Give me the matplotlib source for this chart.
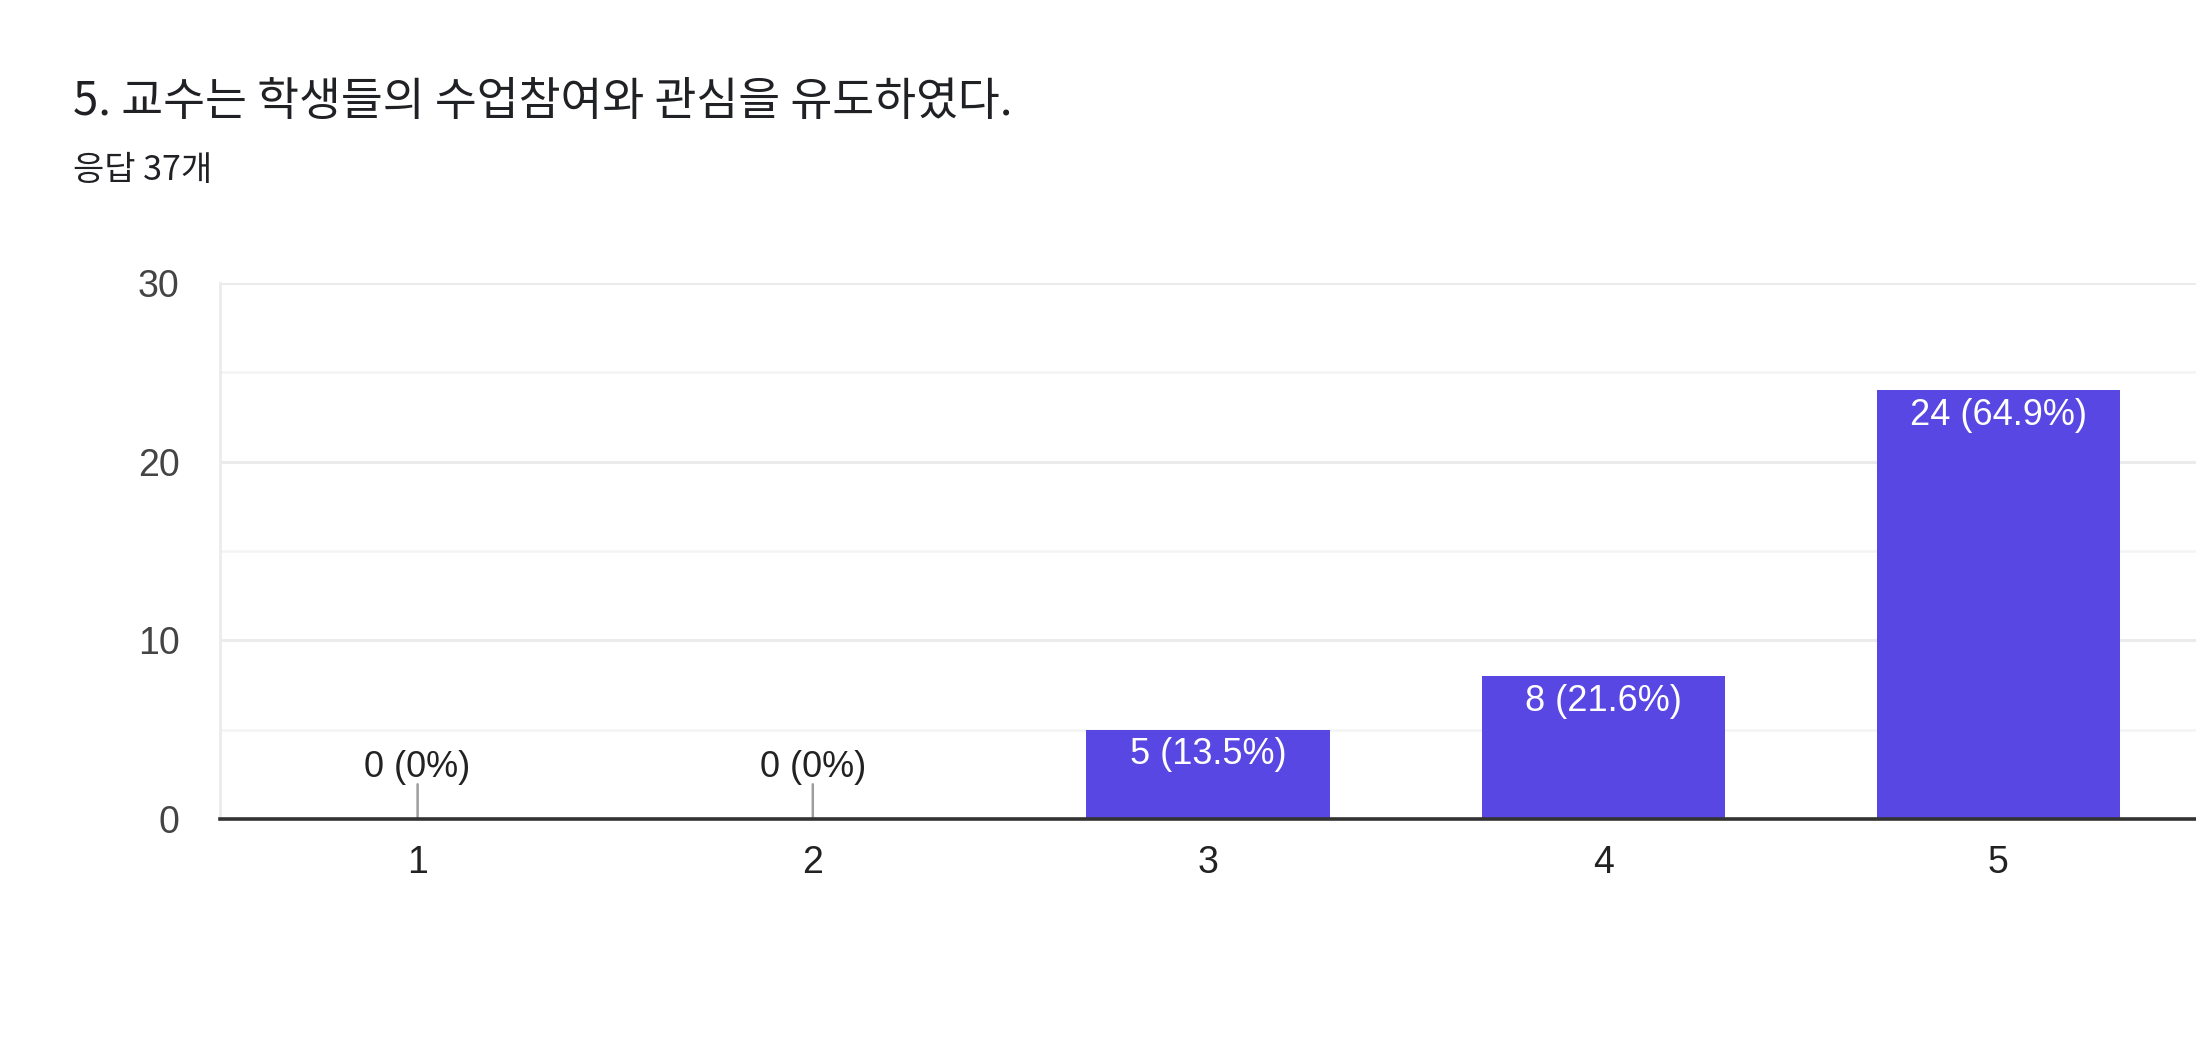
import matplotlib
matplotlib.use("Agg")
import matplotlib.pyplot as plt
from matplotlib.ticker import MultipleLocator

categories = ["1", "2", "3", "4", "5"]
counts = [0, 0, 5, 8, 24]
labels = ["0 (0%)", "0 (0%)", "5 (13.5%)", "8 (21.6%)", "24 (64.9%)"]
title = "5. 교수는 학생들의 수업참여와 관심을 유도하였다."
subtitle = "응답 37개"

plt.rcParams['font.family'] = ['Liberation Sans', 'Noto Sans CJK KR', 'DejaVu Sans']

fig = plt.figure(figsize=(21.96, 10.44), dpi=100)
ax = fig.add_axes([220/2196, 1 - 819/1044, 1 - 220/2196, (819 - 283)/1044])

xs = list(range(1, len(categories) + 1))
bars = ax.bar(xs, counts, width=0.615, color='#5847e2', zorder=3)

ax.set_xlim(0.5, 5.5)
ax.set_ylim(0, 30)
ax.yaxis.set_major_locator(MultipleLocator(10))
ax.yaxis.set_minor_locator(MultipleLocator(5))
ax.set_xticks(xs)
ax.set_xticklabels(categories)

ax.grid(which='major', axis='y', color='#ebebeb', lw=2.2, zorder=0)
ax.grid(which='minor', axis='y', color='#f4f4f4', lw=1.8, zorder=0)
ax.tick_params(axis='both', which='both', length=0)
ax.tick_params(axis='y', labelsize=27, labelcolor='#444444', pad=29)
ax.tick_params(axis='x', labelsize=27, labelcolor='#222222', pad=19)

for s in ['top', 'right']:
    ax.spines[s].set_visible(False)
ax.spines['left'].set_color('#ebebeb')
ax.spines['left'].set_linewidth(2)
ax.spines['bottom'].set_color('#333333')
ax.spines['bottom'].set_linewidth(2.6)
ax.spines['bottom'].set_zorder(5)

for x, c, lab in zip(xs, counts, labels):
    if c == 0:
        ax.annotate('', xy=(x, 0), xytext=(0, 25), textcoords='offset points',
                    xycoords='data',
                    arrowprops=dict(arrowstyle='-', color='#9e9e9e', lw=1.8,
                                    shrinkA=0, shrinkB=0), zorder=4)
        ax.annotate(lab, xy=(x, 0), xytext=(0, 37), textcoords='offset points',
                    ha='center', va='center', fontsize=26, color='#222222', zorder=4)
    else:
        ax.annotate(lab, xy=(x, c), xytext=(0, -18), textcoords='offset points',
                    ha='center', va='center', fontsize=26, color='white', zorder=4)

fig.text(73/2196, 1 - 102/1044, title, fontsize=32.8, color='#202124',
         ha='left', va='center', family=['Noto Sans CJK KR', 'DejaVu Sans'])
fig.text(73/2196, 1 - 171/1044, subtitle, fontsize=24.5, color='#202124',
         ha='left', va='center', family=['Noto Sans CJK KR', 'DejaVu Sans'])

fig.savefig('out.png', dpi=100, facecolor='white')
